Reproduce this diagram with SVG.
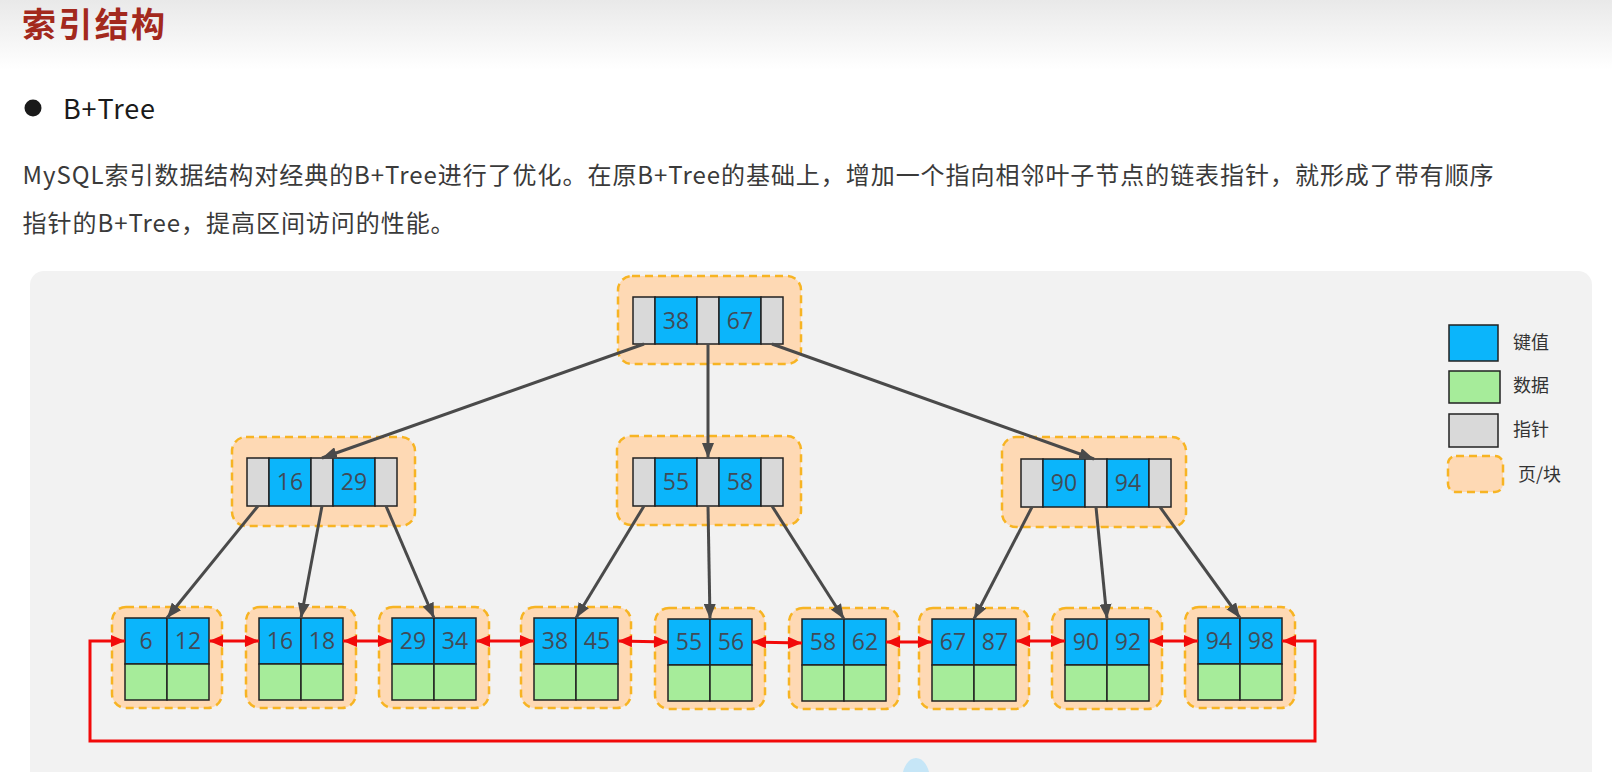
<svg xmlns="http://www.w3.org/2000/svg" width="1612" height="772" viewBox="0 0 1612 772">
  <defs>
    <linearGradient id="hdr" x1="0" y1="0" x2="0" y2="1">
      <stop offset="0" stop-color="#e9e9e9"/>
      <stop offset="1" stop-color="#ffffff"/>
    </linearGradient>
    <marker id="ah" markerUnits="userSpaceOnUse" markerWidth="15" markerHeight="12" refX="15" refY="6" orient="auto">
      <path d="M0,0 L15,6 L0,12 z" fill="#4a4a4a"/>
    </marker>
    <marker id="rh" markerUnits="userSpaceOnUse" markerWidth="14" markerHeight="12" refX="14" refY="6" orient="auto-start-reverse">
      <path d="M0,0 L14,6 L0,12 z" fill="#f20a0a"/>
    </marker>
    <style>
      .page { font-family: "Noto Sans CJK SC", "Noto Sans", sans-serif; }
      .blk { fill: #fed9b4; stroke: #f7b423; stroke-width: 2.5; stroke-dasharray: 8 5; }
      .key { fill: #0bb5fb; stroke: #222; stroke-width: 1.5; }
      .dat { fill: #a6ec9a; stroke: #222; stroke-width: 1.5; }
      .ptr { fill: #d9d9d9; stroke: #222; stroke-width: 1.5; }
      .num { font-family: "Open Sans", "DejaVu Sans", sans-serif; font-size: 23px; fill: #404b57; text-anchor: middle; }
      .tree { stroke: #4a4a4a; stroke-width: 3; fill: none; marker-end: url(#ah); }
      .link { stroke: #f20a0a; stroke-width: 3; fill: none; marker-start: url(#rh); marker-end: url(#rh); }
      .leg { font-family: "Noto Sans CJK SC", sans-serif; font-size: 18px; fill: #333; }
    </style>
  </defs>

  <rect x="0" y="0" width="1612" height="772" fill="#ffffff"/>
  <rect x="0" y="0" width="1612" height="70" fill="url(#hdr)"/>

  <g class="page">
    <text x="22" y="37" font-size="34" font-weight="bold" fill="#a3291d" textLength="143" lengthAdjust="spacing">索引结构</text>
    <circle cx="33" cy="108" r="8.5" fill="#1a1a1a"/>
    <text x="63" y="119" font-size="27" fill="#1a1a1a" textLength="92" lengthAdjust="spacing">B+Tree</text>
    <text x="22.6" y="184" font-size="24" fill="#3a3a3a" textLength="1471" lengthAdjust="spacing">MySQL索引数据结构对经典的B+Tree进行了优化。在原B+Tree的基础上，增加一个指向相邻叶子节点的链表指针，就形成了带有顺序</text>
    <text x="22.6" y="232" font-size="24" fill="#3a3a3a" textLength="432" lengthAdjust="spacing">指针的B+Tree，提高区间访问的性能。</text>
  </g>

  <rect x="30" y="271" width="1562" height="530" rx="14" fill="#f2f2f2"/>

  <!-- root -->
  <g id="node-root">
    <rect class="blk" x="618" y="276" width="183" height="88" rx="14"/>
    <rect class="ptr" x="633" y="297" width="22" height="47"/>
    <rect class="key" x="655" y="297" width="42" height="47"/>
    <rect class="ptr" x="697" y="297" width="22" height="47"/>
    <rect class="key" x="719" y="297" width="42" height="47"/>
    <rect class="ptr" x="761" y="297" width="22" height="47"/>
    <text class="num" x="676" y="329">38</text>
    <text class="num" x="740" y="329">67</text>
  </g>

  <!-- level 2 -->
  <g id="node-l2-left">
    <rect class="blk" x="232" y="437" width="183" height="89" rx="14"/>
    <rect class="ptr" x="247" y="458" width="22" height="48"/>
    <rect class="key" x="269" y="458" width="42" height="48"/>
    <rect class="ptr" x="311" y="458" width="22" height="48"/>
    <rect class="key" x="333" y="458" width="42" height="48"/>
    <rect class="ptr" x="375" y="458" width="22" height="48"/>
    <text class="num" x="290" y="490">16</text>
    <text class="num" x="354" y="490">29</text>
  </g>
  <g id="node-l2-mid">
    <rect class="blk" x="617" y="436" width="184" height="89" rx="14"/>
    <rect class="ptr" x="633" y="458" width="22" height="48"/>
    <rect class="key" x="655" y="458" width="42" height="48"/>
    <rect class="ptr" x="697" y="458" width="22" height="48"/>
    <rect class="key" x="719" y="458" width="42" height="48"/>
    <rect class="ptr" x="761" y="458" width="22" height="48"/>
    <text class="num" x="676" y="490">55</text>
    <text class="num" x="740" y="490">58</text>
  </g>
  <g id="node-l2-right">
    <rect class="blk" x="1002" y="437" width="184" height="90" rx="14"/>
    <rect class="ptr" x="1021" y="459" width="22" height="48"/>
    <rect class="key" x="1043" y="459" width="42" height="48"/>
    <rect class="ptr" x="1085" y="459" width="22" height="48"/>
    <rect class="key" x="1107" y="459" width="42" height="48"/>
    <rect class="ptr" x="1149" y="459" width="22" height="48"/>
    <text class="num" x="1064" y="491">90</text>
    <text class="num" x="1128" y="491">94</text>
  </g>

  <!-- leaves -->
  <g id="leaf-1">
    <rect class="blk" x="112" y="607" width="110" height="101" rx="14"/>
    <rect class="key" x="125" y="618" width="42" height="46"/><rect class="key" x="167" y="618" width="42" height="46"/>
    <rect class="dat" x="125" y="664" width="42" height="36"/><rect class="dat" x="167" y="664" width="42" height="36"/>
    <text class="num" x="146" y="649">6</text><text class="num" x="188" y="649">12</text>
  </g>
  <g id="leaf-2">
    <rect class="blk" x="246" y="607" width="110" height="101" rx="14"/>
    <rect class="key" x="259" y="618" width="42" height="46"/><rect class="key" x="301" y="618" width="42" height="46"/>
    <rect class="dat" x="259" y="664" width="42" height="36"/><rect class="dat" x="301" y="664" width="42" height="36"/>
    <text class="num" x="280" y="649">16</text><text class="num" x="322" y="649">18</text>
  </g>
  <g id="leaf-3">
    <rect class="blk" x="379" y="607" width="110" height="101" rx="14"/>
    <rect class="key" x="392" y="618" width="42" height="46"/><rect class="key" x="434" y="618" width="42" height="46"/>
    <rect class="dat" x="392" y="664" width="42" height="36"/><rect class="dat" x="434" y="664" width="42" height="36"/>
    <text class="num" x="413" y="649">29</text><text class="num" x="455" y="649">34</text>
  </g>
  <g id="leaf-4">
    <rect class="blk" x="521" y="607" width="110" height="101" rx="14"/>
    <rect class="key" x="534" y="618" width="42" height="46"/><rect class="key" x="576" y="618" width="42" height="46"/>
    <rect class="dat" x="534" y="664" width="42" height="36"/><rect class="dat" x="576" y="664" width="42" height="36"/>
    <text class="num" x="555" y="649">38</text><text class="num" x="597" y="649">45</text>
  </g>
  <g id="leaf-5">
    <rect class="blk" x="655" y="608" width="110" height="101" rx="14"/>
    <rect class="key" x="668" y="619" width="42" height="46"/><rect class="key" x="710" y="619" width="42" height="46"/>
    <rect class="dat" x="668" y="665" width="42" height="36"/><rect class="dat" x="710" y="665" width="42" height="36"/>
    <text class="num" x="689" y="650">55</text><text class="num" x="731" y="650">56</text>
  </g>
  <g id="leaf-6">
    <rect class="blk" x="789" y="608" width="110" height="101" rx="14"/>
    <rect class="key" x="802" y="619" width="42" height="46"/><rect class="key" x="844" y="619" width="42" height="46"/>
    <rect class="dat" x="802" y="665" width="42" height="36"/><rect class="dat" x="844" y="665" width="42" height="36"/>
    <text class="num" x="823" y="650">58</text><text class="num" x="865" y="650">62</text>
  </g>
  <g id="leaf-7">
    <rect class="blk" x="919" y="608" width="110" height="101" rx="14"/>
    <rect class="key" x="932" y="619" width="42" height="46"/><rect class="key" x="974" y="619" width="42" height="46"/>
    <rect class="dat" x="932" y="665" width="42" height="36"/><rect class="dat" x="974" y="665" width="42" height="36"/>
    <text class="num" x="953" y="650">67</text><text class="num" x="995" y="650">87</text>
  </g>
  <g id="leaf-8">
    <rect class="blk" x="1052" y="608" width="110" height="101" rx="14"/>
    <rect class="key" x="1065" y="619" width="42" height="46"/><rect class="key" x="1107" y="619" width="42" height="46"/>
    <rect class="dat" x="1065" y="665" width="42" height="36"/><rect class="dat" x="1107" y="665" width="42" height="36"/>
    <text class="num" x="1086" y="650">90</text><text class="num" x="1128" y="650">92</text>
  </g>
  <g id="leaf-9">
    <rect class="blk" x="1185" y="607" width="110" height="101" rx="14"/>
    <rect class="key" x="1198" y="618" width="42" height="46"/><rect class="key" x="1240" y="618" width="42" height="46"/>
    <rect class="dat" x="1198" y="664" width="42" height="36"/><rect class="dat" x="1240" y="664" width="42" height="36"/>
    <text class="num" x="1219" y="649">94</text><text class="num" x="1261" y="649">98</text>
  </g>

  <!-- connectors -->
  <g id="connectors">
    <line class="tree" x1="644" y1="344" x2="322" y2="458"/>
    <line class="tree" x1="708" y1="344" x2="708" y2="458"/>
    <line class="tree" x1="772" y1="344" x2="1094" y2="459"/>
    <line class="tree" x1="258" y1="506" x2="167" y2="618"/>
    <line class="tree" x1="322" y1="506" x2="301" y2="618"/>
    <line class="tree" x1="386" y1="506" x2="434" y2="618"/>
    <line class="tree" x1="644" y1="506" x2="576" y2="618"/>
    <line class="tree" x1="708" y1="506" x2="710" y2="619"/>
    <line class="tree" x1="772" y1="506" x2="844" y2="619"/>
    <line class="tree" x1="1032" y1="507" x2="974" y2="619"/>
    <line class="tree" x1="1096" y1="507" x2="1107" y2="619"/>
    <line class="tree" x1="1160" y1="507" x2="1240" y2="618"/>

    <line class="link" x1="209" y1="641" x2="259" y2="641"/>
    <line class="link" x1="343" y1="641" x2="392" y2="641"/>
    <line class="link" x1="476" y1="641" x2="534" y2="641"/>
    <line class="link" x1="618" y1="641" x2="668" y2="642"/>
    <line class="link" x1="752" y1="642" x2="802" y2="643"/>
    <line class="link" x1="886" y1="642" x2="932" y2="642"/>
    <line class="link" x1="1016" y1="641" x2="1065" y2="641"/>
    <line class="link" x1="1149" y1="641" x2="1198" y2="641"/>
    <path class="link" d="M1282,641 L1315,641 L1315,741 L90,741 L90,641 L125,641"/>
  </g>

  <!-- legend -->
  <g id="legend">
    <rect class="key" x="1449" y="325" width="49" height="36"/>
    <text class="leg" x="1513" y="349">键值</text>
    <rect class="dat" x="1449" y="371" width="51" height="32"/>
    <text class="leg" x="1513" y="392">数据</text>
    <rect class="ptr" x="1449" y="414" width="49" height="33"/>
    <text class="leg" x="1513" y="436">指针</text>
    <rect class="blk" x="1448" y="456" width="55" height="36" rx="8"/>
    <text class="leg" x="1518" y="481">页/块</text>
  </g>

  <path d="M903,772 C905,764 910,758 916,758 C922,758 927,764 929,772 Z" fill="#c6e6f7"/>
</svg>
